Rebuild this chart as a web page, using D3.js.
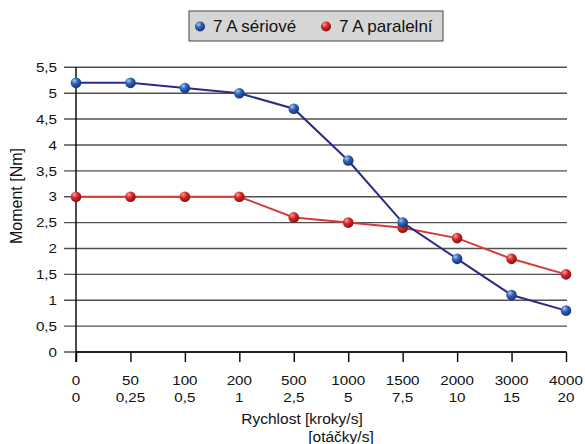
<!DOCTYPE html>
<html><head><meta charset="utf-8">
<script src="https://cdn.jsdelivr.net/npm/d3@7"></script>
<style>body{margin:0;background:#fff;}svg{display:block;font-family:"Liberation Sans",Arial,sans-serif;}</style>
</head><body>
<script>
const stepsLabels = ["0","50","100","200","500","1000","1500","2000","3000","4000"];
const revLabels = ["0","0,25","0,5","1","2,5","5","7,5","10","15","20"];
const seriesNames = ["7 A sériové","7 A paralelní"];
const serialValues = [5.2,5.2,5.1,5.0,4.7,3.7,2.5,1.8,1.1,0.8];
const parallelValues = [3,3,3,3,2.6,2.5,2.4,2.2,1.8,1.5];
const yTicks = [0,0.5,1,1.5,2,2.5,3,3.5,4,4.5,5,5.5];

const W=585,H=444;
const svg=d3.select("body").append("svg").attr("width",W).attr("height",H);
const defs=svg.append("defs");
function grad(id,c0,c1,c2){
  const g=defs.append("radialGradient").attr("id",id).attr("cx","35%").attr("cy","30%").attr("r","70%");
  g.append("stop").attr("offset","0%").attr("stop-color",c0);
  g.append("stop").attr("offset","45%").attr("stop-color",c1);
  g.append("stop").attr("offset","100%").attr("stop-color",c2);
}
grad("gb","#a9c6f0","#2f62b8","#15347a");
grad("gr","#f5a0a0","#d92828","#8a1010");

const x=d3.scalePoint().domain(d3.range(stepsLabels.length)).range([76,566]);
const y=d3.scaleLinear().domain([0,5.5]).range([352,67.3]);
const fmt=d=>String(d).replace(".",",");
const SX=1.17;

// gridlines
svg.append("g").selectAll("line").data(yTicks).join("line")
  .attr("x1",64).attr("x2",567).attr("y1",d=>y(d)).attr("y2",d=>y(d))
  .attr("stroke","#505050").attr("stroke-width",1.4);
// y labels
svg.append("g").selectAll("text").data(yTicks).join("text")
  .attr("transform",d=>`translate(57,${y(d)+4.7}) scale(${SX},1)`).attr("text-anchor","end")
  .attr("font-size",13).attr("fill","#111").text(fmt);
// y axis line
svg.append("line").attr("x1",76).attr("x2",76).attr("y1",67).attr("y2",362).attr("stroke","#000").attr("stroke-width",1.4);
// x axis
const xa=d3.axisBottom(x).tickSize(10).tickFormat(()=> "");
const gx=svg.append("g").attr("transform","translate(0,352)").call(xa);
gx.select(".domain").attr("stroke","#000").attr("stroke-width",1.4).attr("d","M76,0H566");
gx.selectAll(".tick line").attr("stroke","#000").attr("stroke-width",1.4);
svg.append("g").selectAll("text").data(stepsLabels).join("text")
  .attr("transform",(d,i)=>`translate(${x(i)},385) scale(${SX},1)`).attr("text-anchor","middle").attr("font-size",13).attr("fill","#111").text(d=>d);
svg.append("g").selectAll("text").data(revLabels).join("text")
  .attr("transform",(d,i)=>`translate(${x(i)},401.5) scale(${SX},1)`).attr("text-anchor","middle").attr("font-size",13).attr("fill","#111").text(d=>d);

// titles
svg.append("text").attr("x",302).attr("y",424).attr("text-anchor","middle").attr("font-size",15.5).attr("fill","#111").text("Rychlost [kroky/s]");
svg.append("text").attr("x",341).attr("y",441.5).attr("text-anchor","middle").attr("font-size",15.5).attr("fill","#111").text("[otáčky/s]");
svg.append("text").attr("transform","translate(22,196) rotate(-90)").attr("text-anchor","middle").attr("font-size",16).attr("fill","#111").text("Moment [Nm]");

// lines
const line=d3.line().x((d,i)=>x(i)).y(d=>y(d));
svg.append("path").datum(parallelValues).attr("d",line).attr("fill","none").attr("stroke","#d63a3a").attr("stroke-width",2);
svg.append("path").datum(serialValues).attr("d",line).attr("fill","none").attr("stroke","#2b2b85").attr("stroke-width",2);
svg.append("g").selectAll("circle").data(parallelValues).join("circle")
  .attr("cx",(d,i)=>x(i)).attr("cy",d=>y(d)).attr("r",5.3).attr("fill","url(#gr)");
svg.append("g").selectAll("circle").data(serialValues).join("circle")
  .attr("cx",(d,i)=>x(i)).attr("cy",d=>y(d)).attr("r",5.3).attr("fill","url(#gb)");

// legend
const lg=svg.append("g");
lg.append("rect").attr("x",189).attr("y",11).attr("width",254).attr("height",30).attr("fill","#d6d6d6").attr("stroke","#444").attr("stroke-width",1);
lg.append("circle").attr("cx",200).attr("cy",26.5).attr("r",5).attr("fill","url(#gb)");
lg.append("text").attr("x",213).attr("y",32).attr("font-size",17).attr("fill","#111").text(seriesNames[0]);
lg.append("circle").attr("cx",326).attr("cy",26.5).attr("r",5).attr("fill","url(#gr)");
lg.append("text").attr("x",339).attr("y",32).attr("font-size",17).attr("fill","#111").text(seriesNames[1]);
</script>
</body></html>
